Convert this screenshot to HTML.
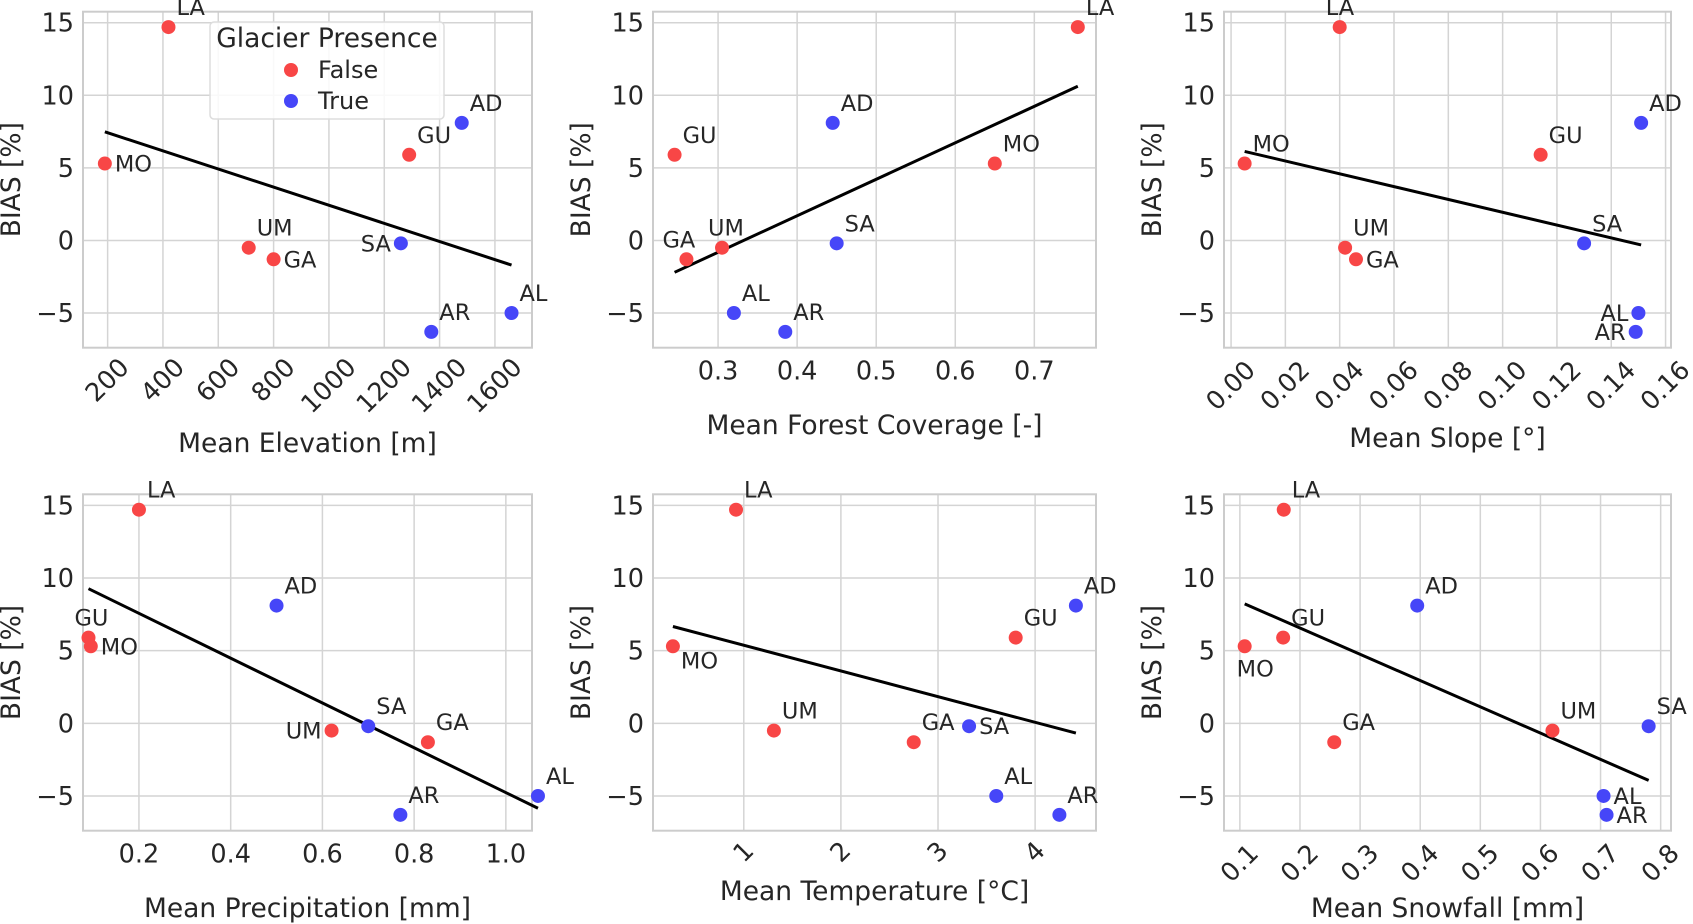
<!DOCTYPE html>
<html><head><meta charset="utf-8">
<style>
html,body{margin:0;padding:0;background:#fff;}
svg{display:block;font-family:"DejaVu Sans","Liberation Sans",sans-serif;}
</style></head>
<body>
<svg id="chart" width="1693" height="924" viewBox="0 0 1693 924" xmlns="http://www.w3.org/2000/svg"></svg>
<script>
const stations = ["LA","AD","GU","MO","UM","GA","SA","AL","AR"];
const glacier = [false,true,false,false,false,false,true,true,true];
const bias = [14.7,8.1,5.9,5.3,-0.5,-1.3,-0.2,-5.0,-6.3];
const elevation = [420,1480,1290,190,710,800,1260,1660,1370];
const forest = [0.755,0.445,0.245,0.65,0.305,0.26,0.45,0.32,0.385];
const slope = [0.040,0.151,0.114,0.005,0.042,0.046,0.130,0.150,0.149];
const precip = [0.2,0.5,0.09,0.095,0.62,0.83,0.70,1.07,0.77];
const temp = [0.92,4.42,3.80,0.27,1.31,2.75,3.32,3.60,4.25];
const snow = [0.173,0.395,0.172,0.108,0.62,0.257,0.78,0.705,0.71];
const yTicks = [-5,0,5,10,15];
const yTickLabels = ["\u22125","0","5","10","15"];
const elevTicks = [200,400,600,800,1000,1200,1400,1600];
const forestTicks = [0.3,0.4,0.5,0.6,0.7];
const slopeTicks = [0,0.02,0.04,0.06,0.08,0.10,0.12,0.14,0.16];
const slopeTickLabels = ["0.00","0.02","0.04","0.06","0.08","0.10","0.12","0.14","0.16"];
const precipTicks = [0.2,0.4,0.6,0.8,1.0];
const precipTickLabels = ["0.2","0.4","0.6","0.8","1.0"];
const tempTicks = [1,2,3,4];
const snowTicks = [0.1,0.2,0.3,0.4,0.5,0.6,0.7,0.8];

const NS="http://www.w3.org/2000/svg";
const svg=document.getElementById('chart');
function mk(tag,attrs,parent){const e=document.createElementNS(NS,tag);for(const k in attrs)e.setAttribute(k,attrs[k]);(parent||svg).appendChild(e);return e;}

const cols=[[83,532],[653,1096],[1224,1671]];
const rows=[[11.7,347.7],[494.3,830.7]];
const yDom=[-7.39,15.76];
const TF=25.5, AF=26.5, LF=22.5;

const panels=[
 {key:'elevation',x:elevation,dom:[111,1734],ticks:elevTicks,tl:elevTicks.map(String),rot:true,title:'Mean Elevation [m]',ty:452,
  lab:{LA:'ur',AD:'ur',GU:'ur',MO:'r',UM:'ur',GA:'r',SA:'l',AL:'ur',AR:'ur'}},
 {key:'forest',x:forest,dom:[0.2177,0.778],ticks:forestTicks,tl:forestTicks.map(String),rot:false,title:'Mean Forest Coverage [-]',ty:434,
  lab:{LA:'ur',AD:'ur',GU:'ur',MO:'ur',UM:'u',GA:'ul',SA:'ur',AL:'ur',AR:'ur'}},
 {key:'slope',x:slope,dom:[-0.0026,0.162],ticks:slopeTicks,tl:slopeTickLabels,rot:true,title:'Mean Slope [\u00b0]',ty:447,
  lab:{LA:'u',AD:'ur',GU:'ur',MO:'ur',UM:'ur',GA:'r',SA:'ur',AL:'l',AR:'l'}},
 {key:'precip',x:precip,dom:[0.078,1.057],ticks:precipTicks,tl:precipTickLabels,rot:false,title:'Mean Precipitation [mm]',ty:917,
  lab:{LA:'ur',AD:'ur',GU:'u',MO:'r',UM:'l',GA:'ur',SA:'ur',AL:'ur',AR:'ur'}},
 {key:'temp',x:temp,dom:[0.065,4.627],ticks:tempTicks,tl:tempTicks.map(String),rot:true,title:'Mean Temperature [\u00b0C]',ty:900,
  lab:{LA:'ur',AD:'ur',GU:'ur',MO:'br',UM:'ur',GA:'ur',SA:'r',AL:'ur',AR:'ur'}},
 {key:'snow',x:snow,dom:[0.0736,0.8172],ticks:snowTicks,tl:snowTicks.map(String),rot:true,title:'Mean Snowfall [mm]',ty:917,
  lab:{LA:'ur',AD:'ur',GU:'ur',MO:'b',UM:'ur',GA:'ur',SA:'ur',AL:'r',AR:'r'}}
];

panels.forEach((p,i)=>{
  const [L,R]=cols[i%3],[T,B]=rows[Math.floor(i/3)];
  const g=mk('g',{});
  
  
  const sx=v=>L+(v-p.dom[0])/(p.dom[1]-p.dom[0])*(R-L);
  const sy=v=>B-(v-yDom[0])/(yDom[1]-yDom[0])*(B-T);
  yTicks.forEach((t,k)=>{
    const l=mk('line',{x1:L,x2:R,y1:sy(t),y2:sy(t),stroke:'#d4d4d4','stroke-width':1.5},g);
    
    const tx=mk('text',{x:L-9,y:sy(t)+9,'text-anchor':'end','font-size':TF,fill:'#262626'},g);
    tx.textContent=yTickLabels[k];
    
  });
  p.ticks.forEach((t,k)=>{
    const x=sx(t);
    const l=mk('line',{x1:x,x2:x,y1:T,y2:B,stroke:'#d4d4d4','stroke-width':1.5},g);
    
    const s=p.tl[k];let tx;
    if(p.rot){
      const w=s.length*0.62*TF;const cy=B+8+(w/2)*0.707+8;
      tx=mk('text',{x:x,y:cy,'text-anchor':'middle','dominant-baseline':'central','font-size':TF,fill:'#262626',transform:`rotate(-45 ${x} ${cy})`},g);
    } else {
      tx=mk('text',{x:x,y:B+32,'text-anchor':'middle','font-size':TF,fill:'#262626'},g);
    }
    tx.textContent=s;
    
  });
  const fr=mk('rect',{x:L,y:T,width:R-L,height:B-T,fill:'none',stroke:'#cccccc','stroke-width':2},g);
  
  const xs=p.x,n=xs.length;let mx=0,my=0;for(let k=0;k<n;k++){mx+=xs[k];my+=bias[k];}mx/=n;my/=n;
  let sxy=0,sxx=0;for(let k=0;k<n;k++){sxy+=(xs[k]-mx)*(bias[k]-my);sxx+=(xs[k]-mx)**2;}
  const b=sxy/sxx,a=my-b*mx;const x0=Math.min(...xs),x1=Math.max(...xs);
  const rl=mk('line',{x1:sx(x0),y1:sy(a+b*x0),x2:sx(x1),y2:sy(a+b*x1),stroke:'#000','stroke-width':3},g);
  
  stations.forEach((s,k)=>{
    const cx=sx(xs[k]),cy=sy(bias[k]);
    const c=mk('circle',{cx:cx,cy:cy,r:7,fill:glacier[k]?'#4646f8':'#f84646'},g);
    
    const pos=p.lab[s];let dx=8,dy=-12,anc='start';
    if(pos==='r'){dx=10;dy=8;}
    else if(pos==='l'){dx=-10;dy=8;anc='end';}
    else if(pos==='u'){dx=-14;dy=-12;}
    else if(pos==='ul'){dx=-24;dy=-12;}
    else if(pos==='b'){dx=-8;dy=30;}
    else if(pos==='br'){dx=8;dy=22;}
    const t=mk('text',{x:cx+dx,y:cy+dy,'text-anchor':anc,'font-size':LF,fill:'#262626'},g);
    t.textContent=s;
    
  });
  const xt=mk('text',{x:(L+R)/2,y:p.ty,'text-anchor':'middle','font-size':AF,fill:'#262626'},g);
  xt.textContent=p.title;
  
  const yx=L-63,yy=(T+B)/2;
  const yt=mk('text',{x:yx,y:yy,'text-anchor':'middle','font-size':AF,fill:'#262626',transform:`rotate(-90 ${yx} ${yy})`},g);
  yt.textContent='BIAS [%]';
  
});
const lg=mk('g',{});

mk('rect',{x:210,y:22,width:234,height:97,rx:4,fill:'#fff','fill-opacity':0.85,stroke:'#dddddd','stroke-width':1.5},lg);
const lt=mk('text',{x:327,y:47,'text-anchor':'middle','font-size':AF,fill:'#262626'},lg);lt.textContent='Glacier Presence';

[['False','#f84646',78],['True','#4646f8',109]].forEach(([lab,col,y])=>{
  const e=mk('g',{},lg);
  
  mk('circle',{cx:291,cy:y-8,r:7,fill:col},e);
  const t=mk('text',{x:318,y:y,'font-size':24,fill:'#262626'},e);t.textContent=lab;
});
</script>
</body></html>
